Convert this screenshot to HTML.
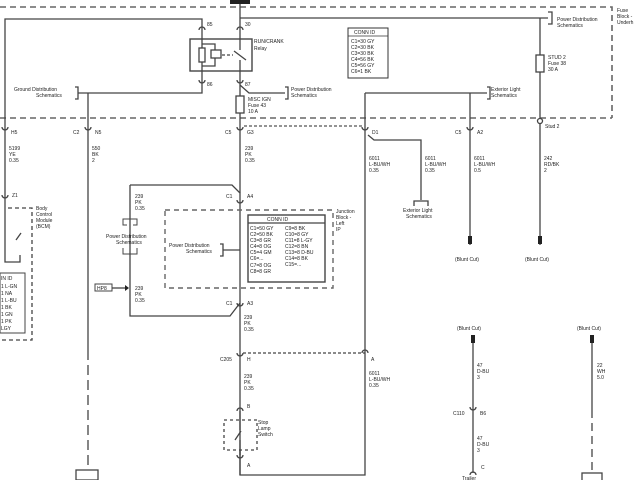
<!DOCTYPE html>
<html><head><meta charset="utf-8"><style>
html,body{margin:0;padding:0;background:#fff}
svg{display:block}
text{font-family:"Liberation Sans",sans-serif;font-size:5px;fill:#222}
</style></head><body>
<svg width="640" height="480" viewBox="0 0 640 480" xmlns="http://www.w3.org/2000/svg">
<g fill="none" stroke="#444" stroke-width="1.3">
<path d="M0 7H612V118M0 118H612" stroke-dasharray="6,4" stroke-width="1.6" stroke="#666"/>
<path d="M244 126H362" stroke-dasharray="3,2" stroke="#555"/>
<path d="M202 30V19H5V200"/>
<path d="M5 200V208M5 208V262H20V255"/>
<rect x="190" y="39" width="62" height="32" stroke-width="1.4"/>
<path d="M202 30V80"/>
<rect x="199" y="48" width="6" height="14" fill="#fff"/>
<path d="M202 44H215V66H202"/>
<rect x="211" y="50" width="10" height="8" fill="#fff"/>
<path d="M222 55H233" stroke-dasharray="3,2"/>
<path d="M240 0V50M234 51L246 60M240 60V127"/>
<path d="M199 30a3 3 0 0 1 6 0M237 30a3 3 0 0 1 6 0M199 80a3 3 0 0 0 6 0M237 80a3 3 0 0 0 6 0"/>
<rect x="236" y="96" width="8" height="17" fill="#fff"/>
<path d="M240 85L249 93H285M285 87h3v12h-3"/>
<path d="M202 80V93H88V350M75 87h3v12h-3M78 93H88"/>
<path d="M88 350V470" stroke-dasharray="10,5"/>
<rect x="76" y="470" width="22" height="10"/>
<path d="M240 18H548M548 12h4v12h-4M540 18V245"/>
<rect x="536" y="55" width="8" height="17" fill="#fff"/>
<path d="M365 93H487M487 87h3v12h-3M470 93V245"/>
<path d="M365 93V475H240V450"/>
<path d="M368 135L374 140H421V200M414 206v-5h14v5"/>
<path d="M2 127a3 3 0 0 0 6 0M85 127a3 3 0 0 0 6 0M237 127a3 3 0 0 0 6 0M362 127a3 3 0 0 0 6 0M467 127a3 3 0 0 0 6 0"/>
<circle cx="540" cy="121" r="2.5" fill="#fff"/>
<path d="M240 127V193"/>
<path d="M130 185H232L240 193V303M240 303L230 316H130V185"/>
<path d="M127 225h-4v-6h14v6h-4M123 248v6h14v-6" stroke-width="1"/>
<path d="M237 200a3 3 0 0 0 6 0M237 303a3 3 0 0 0 6 0"/>
<path d="M165 210H333V288H165Z" stroke-dasharray="5,4" stroke-width="1.4" stroke="#666"/>
<rect x="248" y="215" width="77" height="67" stroke-width="1.4"/>
<path d="M248 223H325"/>
<path d="M220 244h3v12h-3M223 250H240"/>
<rect x="95" y="284" width="17" height="7" stroke-width="1"/>
<path d="M112 288H125"/>
<path d="M240 303V475"/>
<path d="M243 353H365" stroke-dasharray="3,2"/>
<path d="M237 353a3 3 0 0 0 6 0M362 353a3 3 0 0 1 6 0"/>
<path d="M237 411a3 3 0 0 1 6 0M237 455a3 3 0 0 0 6 0"/>
<path d="M224 420H257V450H224Z" stroke-dasharray="3,3"/>
<path d="M240 411V430M235 440L241 431M240 440V455"/>
<path d="M8 208H32V340H0" stroke-dasharray="4,3"/>
<path d="M2 195a3 3 0 0 0 6 0"/>
<path d="M16 240L21 233"/>
<rect x="0" y="273" width="25" height="60" stroke-width="1"/>
<path d="M473 335V473M592 335V410"/>
<path d="M592 410V470" stroke-dasharray="8,5"/>
<rect x="582" y="473" width="20" height="10"/>
<path d="M470 407a3 3 0 0 0 6 0M470 475a3 3 0 0 1 6 0"/>
</g>
<g fill="#222">
<rect x="230" y="0" width="20" height="4"/>
<rect x="468" y="236" width="4" height="8"/><rect x="538" y="236" width="4" height="8"/>
<rect x="471" y="335" width="4" height="8"/><rect x="590" y="335" width="4" height="8"/>
<path d="M125 285l4 3-4 3z"/>
</g>
<text x="207" y="26">85</text><text x="245" y="26">30</text>
<text x="254" y="43">RUN/CRANK</text><text x="254" y="50">Relay</text>
<text x="207" y="86">86</text><text x="245" y="86">87</text>
<text x="14" y="91">Ground Distribution</text><text x="36" y="97">Schematics</text>
<text x="291" y="91">Power Distribution</text><text x="291" y="97">Schematics</text>
<text x="248" y="101">MISC IGN</text><text x="248" y="107">Fuse 43</text><text x="248" y="113">10 A</text>
<rect x="348" y="28" width="40" height="50" fill="none" stroke="#333"/><line x1="348" y1="36" x2="388" y2="36" stroke="#333" stroke-width=".8"/>
<text x="354" y="34">CONN ID</text>
<text x="351" y="43">C1=30 GY</text><text x="351" y="49">C2=30 BK</text><text x="351" y="55">C3=30 BK</text><text x="351" y="61">C4=56 BK</text><text x="351" y="67">C5=56 GY</text><text x="351" y="73">C6=1 BK</text>
<text x="557" y="21">Power Distribution</text><text x="557" y="27">Schematics</text>
<text x="617" y="12">Fuse</text><text x="617" y="18">Block -</text><text x="617" y="24">Underh</text>
<text x="548" y="59">STUD 2</text><text x="548" y="65">Fuse 38</text><text x="548" y="71">30 A</text>
<text x="491" y="91">Exterior Light</text><text x="491" y="97">Schematics</text>
<text x="11" y="134">H5</text><text x="73" y="134">C2</text><text x="95" y="134">N5</text>
<text x="225" y="134">C5</text><text x="247" y="134">G3</text><text x="372" y="134">D1</text>
<text x="455" y="134">C5</text><text x="477" y="134">A2</text><text x="545" y="128">Stud 2</text>
<text x="9" y="150">5199</text><text x="9" y="156">YE</text><text x="9" y="162">0.35</text>
<text x="92" y="150">550</text><text x="92" y="156">BK</text><text x="92" y="162">2</text>
<text x="245" y="150">239</text><text x="245" y="156">PK</text><text x="245" y="162">0.35</text>
<text x="369" y="160">6011</text><text x="369" y="166">L-BU/WH</text><text x="369" y="172">0.35</text>
<text x="425" y="160">6011</text><text x="425" y="166">L-BU/WH</text><text x="425" y="172">0.35</text>
<text x="474" y="160">6011</text><text x="474" y="166">L-BU/WH</text><text x="474" y="172">0.5</text>
<text x="544" y="160">242</text><text x="544" y="166">RD/BK</text><text x="544" y="172">2</text>
<text x="403" y="212">Exterior Light</text><text x="406" y="218">Schematics</text>
<text x="455" y="261">(Blunt Cut)</text><text x="525" y="261">(Blunt Cut)</text>
<text x="12" y="197">Z1</text>
<text x="36" y="210">Body</text><text x="36" y="216">Control</text><text x="36" y="222">Module</text><text x="36" y="228">(BCM)</text>
<text x="1" y="280">IN ID</text><text x="1" y="288">1 L-GN</text><text x="1" y="295">1 NA</text><text x="1" y="302">1 L-BU</text><text x="1" y="309">1 BK</text><text x="1" y="316">1 GN</text><text x="1" y="323">1 PK</text><text x="1" y="330">LGY</text>
<text x="135" y="198">239</text><text x="135" y="204">PK</text><text x="135" y="210">0.35</text>
<text x="226" y="198">C1</text><text x="247" y="198">A4</text>
<text x="106" y="238">Power Distribution</text><text x="116" y="244">Schematics</text>
<text x="169" y="247">Power Distribution</text><text x="186" y="253">Schematics</text>
<text x="267" y="221">CONN ID</text>
<text x="250" y="230">C1=50 GY</text><text x="250" y="236">C2=50 BK</text><text x="250" y="242">C3=8 GR</text><text x="250" y="248">C4=8 OG</text><text x="250" y="254">C5=4 GM</text><text x="250" y="260">C6=...</text><text x="250" y="267">C7=8 OG</text><text x="250" y="273">C8=8 GR</text>
<text x="285" y="230">C9=8 BK</text><text x="285" y="236">C10=8 GY</text><text x="285" y="242">C11=8 L-GY</text><text x="285" y="248">C12=8 BN</text><text x="285" y="254">C13=8 D-BU</text><text x="285" y="260">C14=8 BK</text><text x="285" y="266">C15=...</text>
<text x="336" y="213">Junction</text><text x="336" y="219">Block -</text><text x="336" y="225">Left</text><text x="336" y="231">IP</text>
<text x="97" y="290">HP8</text>
<text x="135" y="290">239</text><text x="135" y="296">PK</text><text x="135" y="302">0.35</text>
<text x="226" y="305">C1</text><text x="247" y="305">A3</text>
<text x="244" y="319">239</text><text x="244" y="325">PK</text><text x="244" y="331">0.35</text>
<text x="220" y="361">C205</text><text x="247" y="361">H</text><text x="371" y="361">A</text>
<text x="369" y="375">6011</text><text x="369" y="381">L-BU/WH</text><text x="369" y="387">0.35</text>
<text x="244" y="378">239</text><text x="244" y="384">PK</text><text x="244" y="390">0.35</text>
<text x="247" y="408">B</text>
<text x="258" y="424">Stop</text><text x="258" y="430">Lamp</text><text x="258" y="436">Switch</text>
<text x="247" y="467">A</text>
<text x="457" y="330">(Blunt Cut)</text><text x="577" y="330">(Blunt Cut)</text>
<text x="477" y="367">47</text><text x="477" y="373">D-BU</text><text x="477" y="379">3</text>
<text x="597" y="367">22</text><text x="597" y="373">WH</text><text x="597" y="379">5.0</text>
<text x="453" y="415">C110</text><text x="480" y="415">B6</text>
<text x="477" y="440">47</text><text x="477" y="446">D-BU</text><text x="477" y="452">3</text>
<text x="481" y="469">C</text><text x="462" y="480">Trailer</text>
</svg>
</body></html>
